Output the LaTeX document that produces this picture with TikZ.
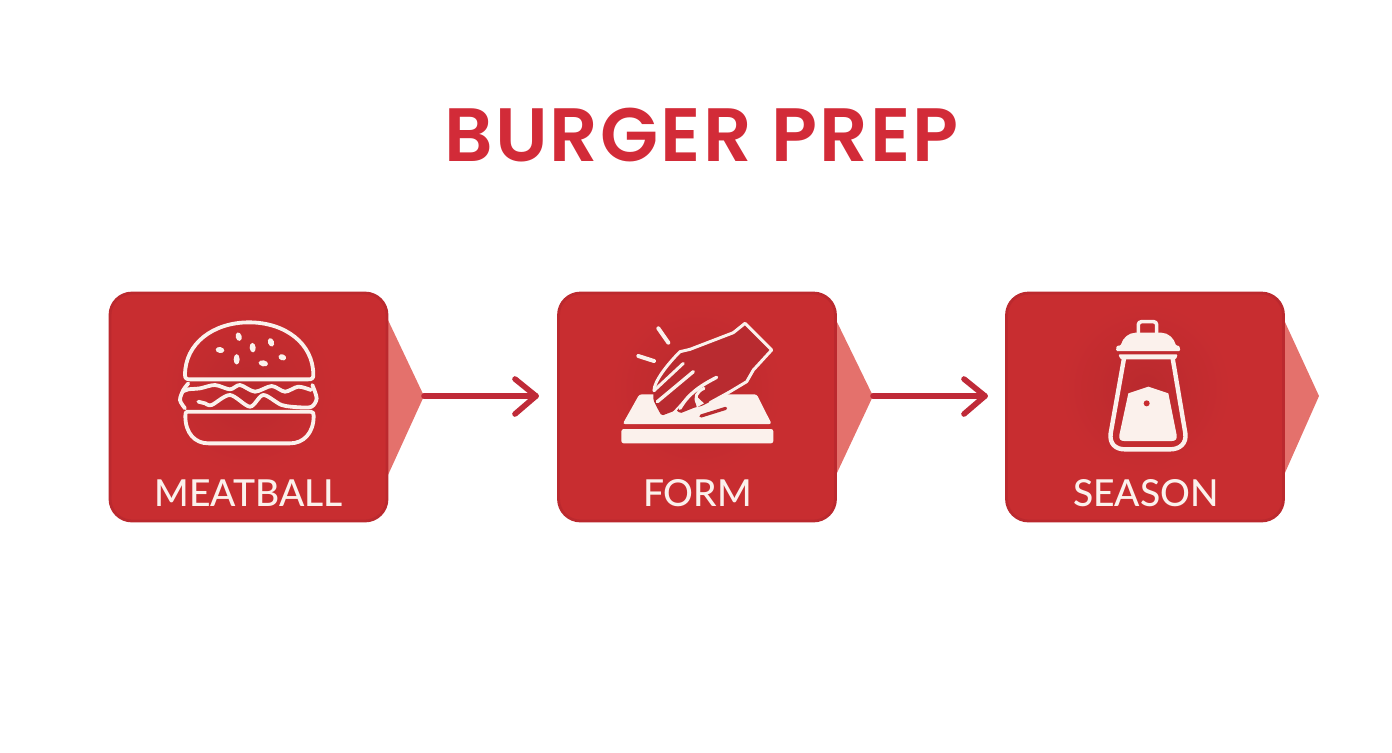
\documentclass[tikz,border=0pt]{standalone}
\usepackage{fontspec}
\setmainfont{Lato Medium}
\newfontfamily\titlefont[LetterSpace=2.8]{Poppins SemiBold}
\usetikzlibrary{arrows.meta}
\definecolor{boxred}{HTML}{C82D30}
\definecolor{boxedge}{HTML}{BB292E}
\definecolor{halo}{HTML}{BA2A2E}
\definecolor{titlered}{HTML}{D22B38}
\definecolor{arrowred}{HTML}{BF2A38}
\definecolor{tri}{HTML}{E4716C}
\definecolor{ink}{HTML}{FBF1EC}
\definecolor{handred}{HTML}{B92B30}
\tikzset{
  stepbox/.style={draw=boxedge,line width=1.4pt,fill=boxred,rounded corners=11pt,minimum width=138.5pt,minimum height=114pt,inner sep=0pt},
  wedge/.style={fill=tri},
  flow/.style={draw=arrowred,line width=2.8pt,line cap=round,line join=round},
  steplabel/.style={text=ink,font=\fontsize{18.6}{20}\selectfont,inner sep=0pt,anchor=base},
  icon/.style={draw=ink,line width=1.9pt,line cap=round,line join=round},
  seed/.style={fill=ink},
  zoomed/.style={x=0.16667pt,y=-0.16667pt}
}
\begin{document}
\begin{tikzpicture}[x=0.5pt,y=-0.5pt]
\useasboundingbox (0,0) rectangle (1392,752);
\node[text=titlered,font=\titlefont\fontsize{37.8}{40}\selectfont,inner sep=0pt,anchor=base] (title) at (701.5,161) {BURGER PREP};

% boxes
\coordinate (tip1) at (424,396);
\coordinate (tip2) at (873,396);
\coordinate (tip3) at (1319,396);
\path[wedge] (380,320) -- (388,320) -- (tip1) -- (388,475) -- (380,475) -- cycle;
\path[wedge] (828,320) -- (836,320) -- (tip2) -- (836,475) -- (828,475) -- cycle;
\path[wedge] (1276,320) -- (1284,320) -- (tip3) -- (1284,475) -- (1276,475) -- cycle;
\node[stepbox] (b1) at (248.5,407) {};
\node[stepbox] (b2) at (697,407) {};
\node[stepbox] (b3) at (1145,407) {};
\shade[inner color=halo,outer color=boxred] (248,388) circle [radius=86];
\shade[inner color=halo,outer color=boxred] (697,388) circle [radius=86];
\shade[inner color=halo,outer color=boxred] (1145,388) circle [radius=86];

\coordinate (e1) at (536,396);
\coordinate (e2) at (985,396);
\draw[flow] (tip1) -- (e1);
\draw[flow] (tip2) -- (e2);
\draw[flow] (515,379) -- (e1) -- (515,414);
\draw[flow] (964,379) -- (e2) -- (964,414);

\node[steplabel] (l1) at (248.5,506) {MEATBALL};
\node[steplabel] (l2) at (697.5,506) {FORM};
\node[steplabel] (l3) at (1146,506) {SEASON};

% burger
\begin{scope}[shift={(100,280)},zoomed]
\draw[icon] (255,285) .. controls (255,190) and (340,127) .. (447,127) .. controls (555,127) and (640,190) .. (640,285) .. controls (640,295) and (635,298) .. (625,298) -- (270,298) .. controls (260,298) and (255,295) .. (255,285) -- cycle;
\foreach \x/\y/\r/\a/\b in {416/170/15/6/10, 513/187/20/6/10, 458/203/5/6/11, 360/210/80/6/10, 410/238/0/6/12, 490/250/80/6/11, 547/232/70/6/9}
  \path[seed,rotate around={\r:(\x,\y)}] (\x,\y) ellipse [x radius=\a*1.5,y radius=\b*1.3];
\draw[icon] (262,395) -- (632,395) .. controls (640,395) and (641,400) .. (641,408) .. controls (641,460) and (610,490) .. (570,490) -- (325,490) .. controls (285,490) and (256,460) .. (256,408) .. controls (256,400) and (257,395) .. (262,395) -- cycle;
\end{scope}
\begin{scope}[shift={(175,370)},zoomed]
\draw[icon,smooth] plot coordinates {(40,40) (25,60) (15,90) (30,115)};
\draw[icon,smooth] plot coordinates {(22,65) (40,58) (75,55) (120,45) (165,58) (195,45) (240,65) (290,48) (330,65) (370,50) (408,60)};
\draw[icon,smooth] plot coordinates {(70,95) (90,100) (110,105) (165,75) (225,110) (265,75) (320,105) (375,112) (410,110) (425,85) (412,45)};
\end{scope}

% hand on board
\begin{scope}[shift={(550,280)},zoomed]
\fill[ink,rounded corners=1.2pt] (268,343) -- (620,343) -- (665,432) -- (218,432) -- cycle;
\fill[ink,rounded corners=1.2pt] (214,447) -- (670,447) -- (670,490) -- (214,490) -- cycle;
\end{scope}
\begin{scope}[shift={(630,320)},zoomed]
\draw[icon,line width=2pt] (85,25) -- (115,68);
\draw[icon,line width=2pt] (25,108) -- (72,123);
\fill[handred,rounded corners=0.8pt] (70,210) -- (80,170) -- (150,95) -- (180,88) -- (310,38) -- (345,10) -- (425,90) -- (370,150) -- (350,185) -- (300,215) -- (215,258) -- (195,262) -- (150,280) -- (140,270) -- (95,287) -- (85,270) -- (70,240) -- cycle;
\fill[ink] (118,287) -- (178,222) -- (136,278) -- cycle;
\fill[ink] (195,225) -- (222,250) -- (200,262) -- cycle;
\draw[icon,line width=1.5pt] (72,212) .. controls (72,185) and (110,135) .. (150,95) -- (180,88) -- (310,38) -- (345,10) -- (425,90) -- (370,150) -- (350,185) -- (300,215) -- (240,248);
\draw[icon,line width=1.5pt] (72,212) -- (160,130);
\draw[icon,line width=1.7pt] (82,245) -- (190,155);
\draw[icon,line width=1.7pt] (150,265) .. controls (175,220) and (215,195) .. (260,172);
\draw[icon,line width=1.5pt] (222,205) .. controls (200,215) and (190,232) .. (205,255);
\draw[draw=handred,line width=1.6pt,line cap=round] (213,288) -- (287,265);
\end{scope}

% shaker
\begin{scope}[shift={(1000,280)},zoomed]
\draw[icon,line width=1.8pt,rounded corners=1.5pt] (415,160) -- (415,125) -- (470,125) -- (470,160);
\fill[ink,rounded corners=0.6pt] (348,213) -- (350,197) -- (362,197) .. controls (368,175) and (385,158) .. (410,158) -- (480,158) .. controls (505,158) and (522,175) .. (528,197) -- (538,197) -- (541,213) -- cycle;
\fill[ink,rounded corners=0.6pt] (355,223) -- (533,223) -- (528,238) -- (362,238) -- cycle;
\draw[icon,line width=2.2pt] (372,235) -- (332,460) .. controls (328,490) and (345,508) .. (375,508) -- (510,508) .. controls (540,508) and (560,490) .. (556,460) -- (518,235);
\fill[ink] (385,340) -- (445,320) -- (505,340) -- (530,465) .. controls (532,478) and (526,483) .. (515,483) -- (373,483) .. controls (362,483) and (356,478) .. (358,465) -- cycle;
\fill[boxred] (440,370) circle [radius=9];
\end{scope}
\end{tikzpicture}
\end{document}
